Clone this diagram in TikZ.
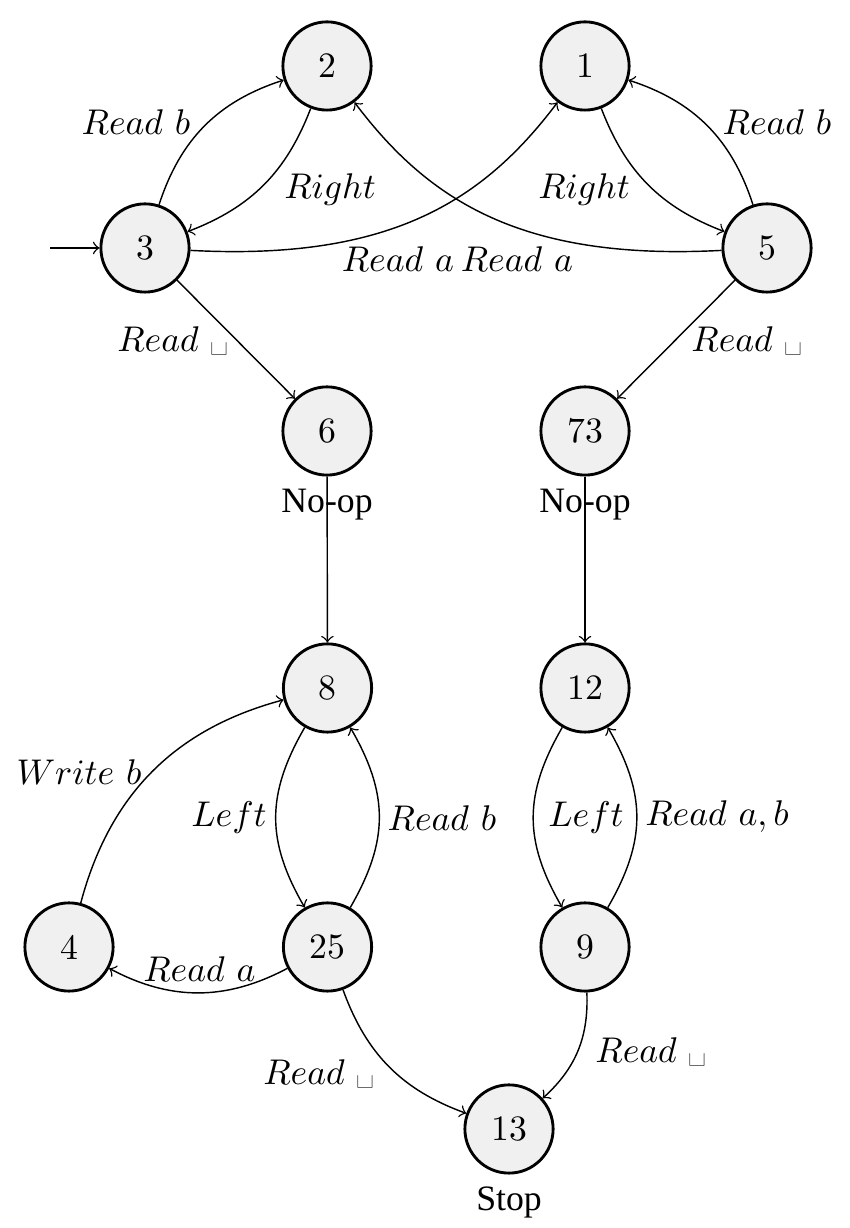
\documentclass[tikz,border=0pt]{standalone}
\usepackage{fontspec}
\newfontfamily\timesfont{Liberation Serif}
\definecolor{stategray}{RGB}{240,240,240}
\begin{document}
\begin{tikzpicture}[x=0.28pt,y=0.28pt,
  state/.style={circle,draw,thick,fill=stategray,minimum size=24.7pt,inner sep=0pt},
  edge/.style={->,thin},
  lbl/.style={inner sep=0pt},
  note/.style={font=\timesfont}]
\useasboundingbox (0,0) rectangle (849,1228);
% states
\node[state] (n2) at (327,1162) {2};
\node[state] (n1) at (585,1162) {1};
\node[state] (n3) at (145,980) {3};
\node[state] (n5) at (767,980) {5};
\node[state,label={[note]below:No-op}] (n6) at (327,797) {6};
\node[state,label={[note]below:No-op}] (n73) at (585,797) {73};
\node[state] (n8) at (327.5,540) {8};
\node[state] (n12) at (585,540) {12};
\node[state] (n4) at (69,281) {4};
\node[state] (n25) at (327.5,281) {25};
\node[state] (n9) at (585,281) {9};
\node[state,label={[note]below:Stop}] (n13) at (509,99) {13};
\coordinate (start) at (50,980);
% control points of the two crossing arcs
\coordinate (c31a) at (390,967);
\coordinate (c31b) at (483,1027);
\coordinate (c52a) at (522,967);
\coordinate (c52b) at (429,1027);
% transitions
\draw[edge] (start) -- (n3);
\draw[edge] (n3) to[bend left=27] (n2) node[lbl] (l32) at (136,1105.5) {$Read\ b$};
\draw[edge] (n2) to[bend left=24] (n3) node[lbl] (l23) at (330,1038) {$Right$};
\draw[edge] (n3) .. controls (c31a) and (c31b) .. (n1) node[lbl] (l31) at (398,968.6) {$Read\ a$};
\draw[edge] (n5) .. controls (c52a) and (c52b) .. (n2) node[lbl] (l52) at (517,968.6) {$Read\ a$};
\draw[edge] (n1) to[bend right=24] (n5) node[lbl] (l15) at (584,1038) {$Right$};
\draw[edge] (n5) to[bend right=27] (n1) node[lbl] (l51) at (777,1105.5) {$Read\ b$};
\draw[edge] (n3) -- (n6) node[lbl] (l36) at (173,887.3) {$Read\ \mbox{\textvisiblespace}$};
\draw[edge] (n5) -- (n73) node[lbl] (l573) at (747,887.3) {$Read\ \mbox{\textvisiblespace}$};
\draw[edge] (n6) -- (n8);
\draw[edge] (n73) -- (n12);
\draw[edge] (n4) to[bend left=30] (n8) node[lbl] (l48) at (79,455.6) {$Write\ b$};
\draw[edge] (n8) to[bend right=30,looseness=1.1] (n25) node[lbl] (l825) at (229,410) {$Left$};
\draw[edge] (n25) to[bend right=30,looseness=1.1] (n8) node[lbl] (l258) at (442,409.5) {$Read\ b$};
\draw[edge] (n25) to[bend left=28] (n4) node[lbl] (l254) at (199.5,259) {$Read\ a$};
\draw[edge] (n12) to[bend right=30,looseness=1.1] (n9) node[lbl] (l129) at (586,410) {$Left$};
\draw[edge] (n9) to[bend right=30,looseness=1.1] (n12) node[lbl] (l912) at (717,411.5) {$Read\ a, b$};
\draw[edge] (n25) to[bend right=25] (n13) node[lbl] (l2513) at (319,154) {$Read\ \mbox{\textvisiblespace}$};
\draw[edge] (n9) to[bend left=25] (n13) node[lbl] (l913) at (651,175.6) {$Read\ \mbox{\textvisiblespace}$};
\end{tikzpicture}
\end{document}
